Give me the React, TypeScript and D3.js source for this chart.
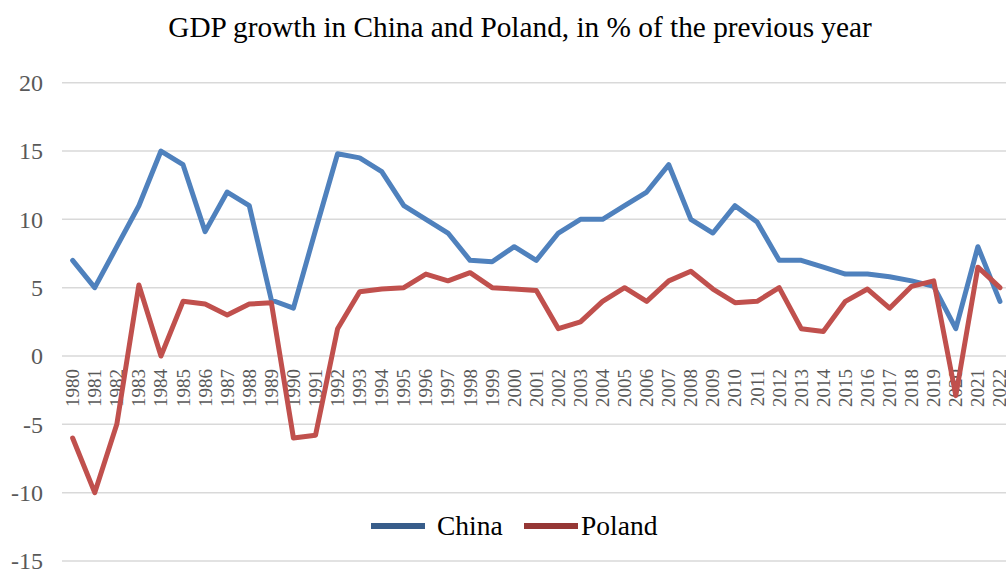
import React, { useRef, useEffect } from 'react';
import * as d3 from 'd3';

// Years on the category axis
const years: string[] = d3.range(1980, 2023).map(String);

// GDP growth, % of previous year
const china: number[] = [
  7.0, 5.0, 8.0, 11.0, 15.0, 14.0, 9.1, 12.0, 11.0, 4.1,
  3.5, 9.2, 14.8, 14.5, 13.5, 11.0, 10.0, 9.0, 7.0, 6.9,
  8.0, 7.0, 9.0, 10.0, 10.0, 11.0, 12.0, 14.0, 10.0, 9.0,
  11.0, 9.8, 7.0, 7.0, 6.5, 6.0, 6.0, 5.8, 5.5, 5.1,
  2.0, 8.0, 4.0,
];
const poland: number[] = [
  -6.0, -10.0, -5.0, 5.2, 0.0, 4.0, 3.8, 3.0, 3.8, 3.9,
  -6.0, -5.8, 2.0, 4.7, 4.9, 5.0, 6.0, 5.5, 6.1, 5.0,
  4.9, 4.8, 2.0, 2.5, 4.0, 5.0, 4.0, 5.5, 6.2, 4.9,
  3.9, 4.0, 5.0, 2.0, 1.8, 4.0, 4.9, 3.5, 5.1, 5.5,
  -2.9, 6.5, 5.0,
];
const yTicks: number[] = [-15, -10, -5, 0, 5, 10, 15, 20];

const series = [
  { name: 'China', values: china, color: '#4F81BD', legendColor: '#385D8A' },
  { name: 'Poland', values: poland, color: '#C0504D', legendColor: '#953735' },
];

const App = () => {
  const chartRef = useRef<SVGSVGElement | null>(null);

  useEffect(() => {
    const width = 1006;
    const height = 572;
    const svg = d3.select(chartRef.current)
      .attr('width', width)
      .attr('height', height);
    svg.selectAll('*').remove();

    const font = '"Liberation Serif", "Times New Roman", serif';

    const x = d3.scalePoint<string>().domain(years).range([61.6, 1011]).padding(0.5);
    const y = d3.scaleLinear().domain([-15, 20]).range([561, 82.7]);

    // Title
    svg.append('text')
      .attr('x', 520)
      .attr('y', 37)
      .attr('text-anchor', 'middle')
      .attr('font-family', font)
      .attr('font-size', 29.3)
      .attr('fill', '#000')
      .text('GDP growth in China and Poland, in % of the previous year');

    // Gridlines
    svg.append('g')
      .selectAll('line')
      .data(yTicks)
      .enter().append('line')
      .attr('x1', 62)
      .attr('x2', width)
      .attr('y1', d => y(d))
      .attr('y2', d => y(d))
      .attr('stroke', '#D9D9D9')
      .attr('stroke-width', 1.5);

    // Y tick labels
    svg.append('g')
      .selectAll('text')
      .data(yTicks)
      .enter().append('text')
      .attr('x', 43)
      .attr('y', d => y(d))
      .attr('dy', '0.35em')
      .attr('text-anchor', 'end')
      .attr('font-family', font)
      .attr('font-size', 24)
      .attr('fill', '#595959')
      .text(d => String(d));

    // Year labels, rotated, hung just under the zero line
    svg.append('g')
      .selectAll('text')
      .data(years)
      .enter().append('text')
      .attr('transform', d => `translate(${x(d)},${y(0) + 13}) rotate(-90)`)
      .attr('dy', '0.34em')
      .attr('text-anchor', 'end')
      .attr('font-family', font)
      .attr('font-size', 19)
      .attr('fill', '#595959')
      .text(d => d);

    // Lines
    const line = d3.line<number>()
      .x((_, i) => x(years[i]) as number)
      .y(d => y(d));

    series.forEach(s => {
      svg.append('path')
        .datum(s.values)
        .attr('d', line)
        .attr('fill', 'none')
        .attr('stroke', s.color)
        .attr('stroke-width', 5)
        .attr('stroke-linejoin', 'round')
        .attr('stroke-linecap', 'round');
    });

    // Legend
    const swatchX = [371, 524];
    const labelX = [437, 581];
    series.forEach((s, i) => {
      svg.append('line')
        .attr('x1', swatchX[i])
        .attr('x2', swatchX[i] + 54)
        .attr('y1', 526)
        .attr('y2', 526)
        .attr('stroke', s.legendColor)
        .attr('stroke-width', 6);
      svg.append('text')
        .attr('x', labelX[i])
        .attr('y', 535)
        .attr('font-family', font)
        .attr('font-size', 27.5)
        .attr('fill', '#000')
        .text(s.name);
    });
  }, []);

  return <svg ref={chartRef} style={{ position: 'absolute', left: 0, top: 0 }} />;
};

export default App;
